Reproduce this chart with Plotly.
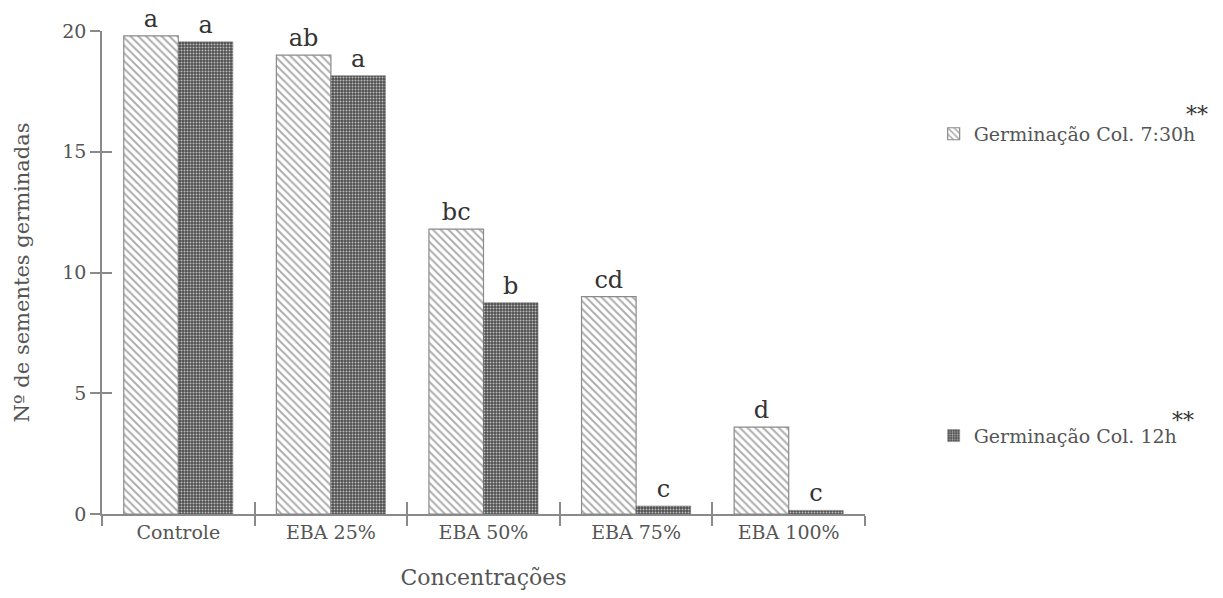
import plotly.graph_objects as go

categories = ["Controle", "EBA 25%", "EBA 50%", "EBA 75%", "EBA 100%"]
col_730 = [19.8, 19.0, 11.8, 9.0, 3.6]
col_12 = [19.55, 18.15, 8.75, 0.33, 0.15]
letters_730 = ["a", "ab", "bc", "cd", "d"]
letters_12 = ["a", "a", "b", "c", "c"]
series_names = ["Germinação Col. 7:30h", "Germinação Col. 12h"]
y_ticks = [0, 5, 10, 15, 20]

FONT = "DejaVu Serif"
GREY = "#555555"
DARK = "#333333"
AX = "#8a8a8a"

fig = go.Figure()
fig.add_trace(go.Bar(
    x=categories, y=col_730, name=series_names[0],
    text=letters_730, textposition="outside",
    textfont=dict(family=FONT, size=24, color=DARK),
    marker=dict(color="white", line=dict(color="#8a8a8a", width=1.2),
                pattern=dict(shape="\\", fgcolor="#5a5a5a", bgcolor="white",
                             size=5.5, solidity=0.35, fillmode="overlay")),
    legend="legend", showlegend=True, cliponaxis=False,
))
fig.add_trace(go.Bar(
    x=categories, y=col_12, name=series_names[1],
    text=letters_12, textposition="outside",
    textfont=dict(family=FONT, size=24, color=DARK),
    marker=dict(color="#555555", line=dict(color="#6a6a6a", width=0.5),
                pattern=dict(shape=".", fgcolor="#bdbdbd", bgcolor="#4e4e4e",
                             size=3, solidity=0.35, fillmode="replace")),
    legend="legend2", showlegend=True, cliponaxis=False,
))

fig.update_layout(
    width=1215, height=590,
    paper_bgcolor="white", plot_bgcolor="white",
    margin=dict(l=94, r=358, t=19, b=83),
    barmode="group", bargap=0.285, bargroupgap=0,
    showlegend=True,
    font=dict(family=FONT, color=GREY, size=16),
    legend=dict(x=1.09, y=0.787, xanchor="left", yanchor="middle",
                font=dict(family=FONT, size=19, color=GREY), bgcolor="rgba(0,0,0,0)"),
    legend2=dict(x=1.09, y=0.162, xanchor="left", yanchor="middle",
                 font=dict(family=FONT, size=19, color=GREY), bgcolor="rgba(0,0,0,0)"),
    xaxis=dict(
        title=dict(text="Concentrações", font=dict(family=FONT, size=22, color=GREY), standoff=28),
        range=[-0.5, 4.5], showline=True, linecolor=AX, linewidth=1.5,
        ticks="outside", tickson="boundaries", ticklen=10, tickcolor=AX, tickwidth=1.5,
        tickfont=dict(family=FONT, size=19, color=GREY), showgrid=False, zeroline=False,
    ),
    xaxis2=dict(
        overlaying="x", anchor="y", side="bottom", range=[-0.5, 4.5],
        tickvals=[0.5, 1.5, 2.5, 3.5, 4.5], ticks="inside", ticklen=12,
        tickcolor=AX, tickwidth=1.5, showticklabels=False, showgrid=False,
        zeroline=False, showline=False,
    ),
    yaxis=dict(
        title=dict(text="Nº de sementes germinadas", font=dict(family=FONT, size=21, color=GREY), standoff=27),
        range=[0, 20], showline=True, linecolor=AX, linewidth=1.5,
        ticks="outside", ticklen=10, tickcolor=AX, tickwidth=1.5,
        tickvals=y_ticks,
        tickfont=dict(family=FONT, size=19, color=GREY), showgrid=False, zeroline=False,
    ),
    yaxis2=dict(
        overlaying="y", anchor="x", side="left", range=[0, 20],
        tickvals=y_ticks[1:], ticks="inside", ticklen=10,
        tickcolor=AX, tickwidth=1.5, showticklabels=False, showgrid=False,
        zeroline=False, showline=False,
    ),
)

# invisible trace so the overlay axes are drawn
fig.add_trace(go.Scatter(x=[None], y=[None], xaxis="x2", yaxis="y2",
                         showlegend=False, hoverinfo="skip"))

fig.add_annotation(xref="paper", yref="paper", x=1.452, y=0.857, text="**", showarrow=False,
                   font=dict(family=FONT, size=22, color=DARK))
fig.add_annotation(xref="paper", yref="paper", x=1.434, y=0.163, text="**", showarrow=False,
                   font=dict(family=FONT, size=22, color=DARK))

fig.write_html("out.html")
